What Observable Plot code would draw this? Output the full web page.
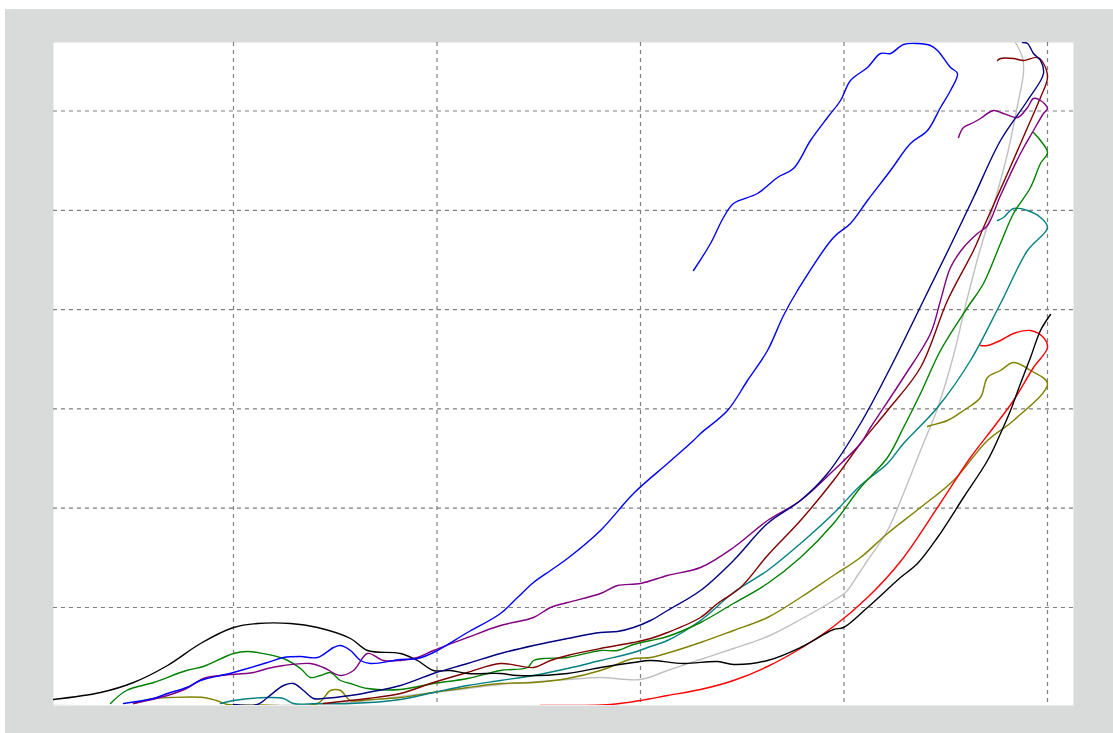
<!DOCTYPE html>
<html>
<head>
<meta charset="utf-8">
<script src="https://cdn.jsdelivr.net/npm/d3@7"></script>
<script src="https://cdn.jsdelivr.net/npm/@observablehq/plot@0.6"></script>
<style>
  html, body { margin: 0; padding: 0; background: #ffffff; }
  #chart { position: absolute; left: 5px; top: 9px; width: 1108px; height: 724px; background: #d9dbda; }
  #chart svg { display: block; }
</style>
</head>
<body>
<div id="chart"></div>
<script>
// Grid positions (no tick labels are shown in the original)
const xGrid = [18, 38.35, 58.7, 79.05, 99.4];
const yGrid = [9.8, 19.73, 29.66, 39.59, 49.52, 59.45];

// Series values as [x, y] pairs, in drawing order
const blackSeries = [[0,0.6],[4.7,1.3],[8,2.3],[11.4,4],[14.7,6.2],[18,7.8],[20.4,8.2],[23.7,8.2],[26.4,7.8],[29.7,6.7],[31.4,5.5],[34.7,5.2],[36.4,4.5],[38,3.5],[39.7,3.5],[41.4,3.2],[44.7,3.2],[46.4,3],[51.4,3.2],[54.7,3.8],[58,4.3],[59.7,4.5],[63,4.2],[66.4,4.4],[68,4.1],[71.4,4.5],[74.7,5.8],[78,7.6],[79,7.8],[81.4,9.8],[84.7,12.8],[86.4,14.2],[88.4,16.8],[91,20.8],[93.4,24.5],[94.7,27.2],[95.7,29.5],[96.7,32.2],[97.7,34.8],[98.7,37.5],[99.7,39.1]];

const redSeries = [[48.7,0],[55.7,0.1],[58.7,0.5],[61.4,1],[64.7,1.6],[68,2.5],[71.4,3.9],[74.7,5.7],[78,7.9],[81.4,10.8],[84.7,14.4],[88.4,19.8],[91.7,24.8],[94,27.8],[96,30.5],[98,33.8],[99.4,35.8],[99,36.8],[97.7,37.5],[96,37.2],[94.7,36.5],[93.4,36],[92.7,36]];

const oliveSeries = [[8,0.2],[10,0.7],[11.7,0.8],[15,0.8],[16.3,0.5],[17.4,0.1],[20.7,0.05],[26.4,0.2],[27.7,1.5],[28.7,1.5],[29.7,0.5],[31.7,0.6],[34.7,0.8],[38,1.3],[41.4,1.8],[44.7,2.2],[48,2.3],[51.4,2.7],[54.7,3.5],[58,4.7],[59.7,4.8],[64.7,6.3],[68,7.5],[71.4,8.8],[74.7,10.8],[78,13],[80.7,14.8],[83.4,17.2],[86.7,19.8],[90,22.5],[93.4,26.5],[96,28.5],[99.4,32.2],[97.7,33.5],[96,34.3],[94.7,33.5],[93.4,32.8],[92.7,30.8],[91,29.5],[89.4,28.5],[87.7,28],[87.4,27.9]];

const silverSeries = [[0,0],[22.7,0],[29.7,0.3],[34.7,0.9],[39.7,1.5],[44.7,2.1],[51.4,2.6],[54.7,2.8],[58.7,2.6],[61.4,3.5],[64.7,4.6],[68,5.7],[71.4,6.9],[74.7,8.6],[78,10.5],[79.2,11.3],[80.4,13],[81.4,14.5],[83.4,17.5],[85,21.2],[86.7,25.5],[88.4,29.7],[90,35],[91.2,40],[92.5,45],[94,50],[95.4,55.2],[96.5,60.5],[97,63.3],[96.9,64.8],[96.2,66.3]];

const tealSeries = [[16.7,0.2],[18,0.5],[21.4,0.8],[23,0.7],[24,0.2],[26.4,0.2],[29.7,0.2],[34.7,0.6],[38,1.3],[41.4,2],[44.7,2.5],[48,3],[51.4,3.7],[54.7,4.5],[58,5.3],[59.7,5.9],[61.4,6.5],[64.7,8.5],[68,11.3],[71.4,13.5],[74.7,16.2],[78,19.2],[80.7,22],[83.4,24.2],[85,26.2],[88.4,29.8],[91.7,34.5],[94.7,40.2],[97.4,45.5],[99.4,47.8],[98.7,48.8],[97.4,49.5],[96,49.7],[95,48.8],[94.4,48.5]];

const greenSeries = [[5.7,0.2],[7.3,1.5],[10,2.3],[13.3,3.5],[15,3.9],[18,5.2],[19.4,5.4],[20.4,5.3],[23,4.7],[24.7,3.7],[25.7,2.8],[26.7,3],[27.7,3.3],[28.7,2.5],[29.7,2.2],[31.4,1.7],[34.7,1.6],[38,2.2],[41.4,2.7],[44.7,3.5],[47.4,3.8],[48,4.5],[49,4.7],[51.4,4.8],[54.7,5.5],[56.4,5.5],[58,6.1],[59.7,6.5],[61.4,6.9],[64.7,8.3],[68,10.2],[71.4,12.2],[74.7,14.8],[78,18.2],[80.7,21.8],[83.4,24.8],[85,27.8],[86.7,31.2],[88.7,35.5],[91.4,39.8],[93,42.2],[94.7,46.2],[96,49.2],[97.7,51.8],[98.7,54.2],[99.4,55.3],[98.7,56.5],[98,57.3]];

const maroonSeries = [[27,0.2],[29.7,0.5],[31.4,0.7],[34.7,1.2],[38,2.3],[41.4,3.3],[44.7,4.2],[48,3.8],[49.7,4.5],[51.4,5],[54.7,5.7],[58,6.3],[59.7,6.7],[61.4,7.3],[64.7,8.8],[66.4,10.2],[68.7,11.8],[71.4,15],[74.7,18.5],[78,22.5],[80.7,26.2],[83.4,29.5],[86.7,33.8],[89.4,40.5],[92,45.5],[93,47.8],[95.4,53.2],[97.4,57.8],[98.7,60.8],[99.4,62.8],[99,64.2],[98.4,64.8],[97,64.5],[96,64.7],[94.7,64.7],[94.4,64.5]];

const navySeries = [[18,0.1],[20.4,0.1],[21.4,0.8],[23,2],[24,2.2],[25,1.5],[26,0.7],[27,0.7],[29.7,1],[31.4,1.3],[34.7,2],[38,3.2],[41.4,4.2],[44.7,5.2],[48,6],[51.4,6.7],[54.7,7.3],[56.4,7.4],[58,7.8],[59.7,8.5],[61.4,9.5],[64.7,11.5],[68,14.5],[71.4,18.2],[74.7,20.5],[77.4,23.2],[80.7,28.2],[83.7,33.8],[87,40.5],[89.7,46],[92,50.8],[94.7,56.5],[97.4,60.5],[99,63.2],[98.7,64.5],[98,65.2],[97.4,66.2],[96.9,66.3]];

const purpleSeries = [[8,0.2],[11.4,1],[13.3,1.7],[15,2.7],[16.7,3],[20,3.3],[21.4,3.7],[23,4],[25.7,4.2],[27,3.8],[28.7,3],[30,3.5],[31.4,5.2],[33,4.5],[34.7,4.5],[36.4,4.8],[38,5.5],[41.4,6.8],[44.7,8],[48,8.8],[49.7,9.8],[51.4,10.3],[54.7,11.2],[56.4,12],[58.7,12.2],[61.4,13],[64.7,13.8],[68,15.8],[71.4,18.5],[74.7,20.5],[78,23.5],[80.7,26.2],[81.7,27.8],[85,32.8],[87.7,37.2],[88.7,40.5],[89.7,43.8],[91,45.8],[92.4,47.2],[93.4,48],[94.7,51],[96.7,55.2],[98,57.5],[99,59.2],[99.4,59.7],[98.7,60.5],[98,60.7],[97.4,59.8],[96.4,58.8],[95,59.2],[94,59.5],[92.7,58.7],[92,58.3],[91,57.8],[90.5,56.8]];

const blueSeries = [[7,0.2],[10,0.7],[11.4,1.2],[13.3,1.8],[14.7,2.5],[18,3.3],[21.4,4.3],[23,4.8],[24.7,4.9],[26.4,4.8],[28,5.8],[28.7,6],[29.7,5.5],[30.7,4.5],[31.7,4.2],[34.7,4.6],[36.4,4.7],[38,5.3],[41.4,7.3],[44.7,9.2],[46.4,10.8],[48,12.3],[49.7,13.5],[51.4,14.7],[54.7,17.5],[58,21.2],[61.4,24.2],[64,26.5],[64.7,27.2],[67.4,29.5],[69.4,32.5],[71.4,35.5],[73,39],[74.4,41.5],[78,46.8],[79.7,48.2],[81.4,50.5],[83.7,53.5],[85.7,56.2],[87.4,57.5],[88.7,59.8],[89.7,61.5],[90.4,63.2],[89.7,63.8],[88.4,65.5],[87.7,66],[86.4,66.2],[85,66.1],[83.7,65.2],[82.7,65.2],[81.4,63.8],[79.7,62.5],[78.7,60.5],[77.4,58.8],[75.7,56.5],[74,53.7],[72.4,52.8],[70.4,51.2],[68,50.2],[67,48.8],[65.7,46.2],[64,43.5]];

const seriesNames = ["silver","olive","teal","green","maroon","red","black","purple","navy","blue"];
const seriesColors = ["#c0c0c0","#808000","#008080","#008000","#800000","#ff0000","#000000","#800080","#000080","#0000ff"];
const seriesValues = [silverSeries, oliveSeries, tealSeries, greenSeries, maroonSeries, redSeries, blackSeries, purpleSeries, navySeries, blueSeries];

const rows = [];
seriesValues.forEach((vals, i) => {
  vals.forEach(([x, y], j) => rows.push({series: seriesNames[i], order: j, x, y}));
});

const chart = Plot.plot({
  width: 1108,
  height: 724,
  marginLeft: 48,
  marginTop: 33,
  marginRight: 40,
  marginBottom: 28,
  style: {background: "#d9dbda", overflow: "visible"},
  x: {domain: [0, 102], axis: null},
  y: {domain: [0, 66.3], axis: null},
  color: {domain: seriesNames, range: seriesColors},
  marks: [
    Plot.frame({fill: "#ffffff", stroke: null}),
    Plot.ruleX(xGrid, {stroke: "#808080", strokeWidth: 1.2, strokeDasharray: "4,4"}),
    Plot.ruleY(yGrid, {stroke: "#808080", strokeWidth: 1.2, strokeDasharray: "4,4"}),
    Plot.line(rows, {x: "x", y: "y", z: "series", stroke: "series", strokeWidth: 1.4, clip: "frame", curve: "catmull-rom"})
  ]
});
document.getElementById("chart").appendChild(chart);
</script>
</body>
</html>
